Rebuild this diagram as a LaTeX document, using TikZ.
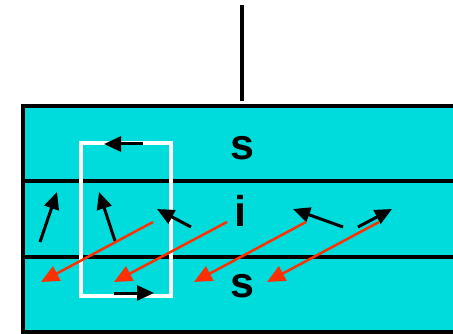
\documentclass[tikz,border=0pt]{standalone}
\usepackage{fontspec}
\setmainfont{Liberation Sans}
\usepackage{tikz}
\usetikzlibrary{arrows.meta}

\definecolor{layercyan}{RGB}{0,220,220}
\definecolor{beamred}{RGB}{255,48,0}

\begin{document}
\begin{tikzpicture}[
  x=1pt, y=-1pt,
  every node/.style={font=\fontsize{43}{43}\selectfont\bfseries, inner sep=0pt},
  layer/.style={line width=3.5pt},
  loop/.style={draw=white, line width=3.5pt},
  arr/.style={-{Triangle[length=17pt, width=15pt]}, line width=3pt},
  redarr/.style={-{Triangle[length=18pt, width=16pt]}, line width=2.5pt, beamred}
]
\useasboundingbox (0,0) rectangle (453,334);

% slab
\fill[layercyan] (23,106) rectangle (453,332);
\draw[line width=4pt] (453,106) -- (23,106) -- (23,332) -- (453,332);
\draw[layer] (23,181) -- (453,181);
\draw[layer] (23,257) -- (453,257);

% wire
\draw[line width=4pt] (242,5) -- (242,101);

% labels
\node[anchor=base] (stop) at (242,160) {s};
\node[anchor=base] (imid) at (240,227) {i};
\node[anchor=base] (sbot) at (242,297) {s};

% circuit
\draw[loop] (81,143) rectangle (171,296);
\draw[arr] (143,144) -- (104,144);
\draw[arr] (114,293) -- (154,293);

% black arrows
\draw[arr] (40,242) -- (57,192);
\draw[arr] (115,241) -- (99,192);
\draw[arr] (191,227) -- (157,209);
\draw[arr] (343,227) -- (293,209);
\draw[arr] (358,227) -- (392,209);

% red arrows
\draw[redarr] (153,222) -- (41,282);
\draw[redarr] (227,222) -- (114,282);
\draw[redarr] (306,222) -- (194,282);
\draw[redarr] (379,222) -- (267,282);
\end{tikzpicture}
\end{document}
